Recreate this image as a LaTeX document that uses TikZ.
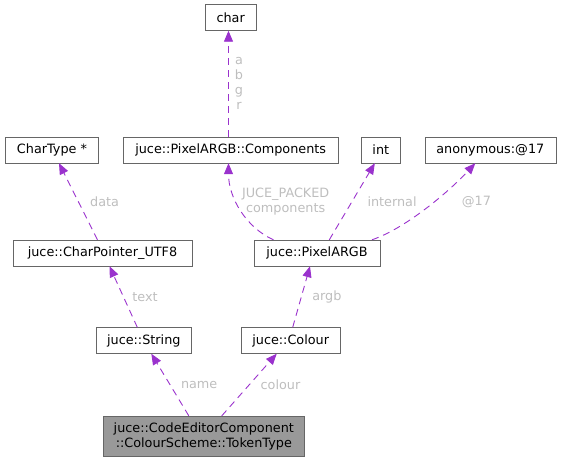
\documentclass[tikz,border=0pt]{standalone}
\usepackage{fontspec}
\setmainfont{DejaVu Sans}
\usetikzlibrary{arrows.meta}
\definecolor{edgepurple}{HTML}{9A32CD}
\definecolor{lblgray}{HTML}{BEBEBE}
\definecolor{boxgray}{HTML}{666666}
\begin{document}
\begin{tikzpicture}[x=1pt,y=-1pt,>={Triangle[length=11pt,width=9pt]},font=\fontsize{12.8}{15}\selectfont]
\tikzset{
  klass/.style={draw=boxgray,fill=white,shape=rectangle,minimum height=26pt,inner xsep=4pt,inner ysep=2pt},
  focus/.style={klass,fill=black!40,align=center,minimum height=40pt},
  dep/.style={->,color=edgepurple,dash pattern=on 7pt off 5pt,line width=0.9pt},
  lbl/.style={text=lblgray,align=center,inner sep=1pt}
}
\useasboundingbox (0,0) rectangle (561,461);
\node[klass,minimum width=51.5pt] (char) at (230.7,17.5) {char};
\node[klass,minimum width=93pt] (chartype) at (52,150) {CharType *};
\node[klass,minimum width=214.6pt] (components) at (230.7,150) {juce::PixelARGB::Components};
\node[klass,minimum width=38.6pt] (int) at (380.8,150) {int};
\node[klass,minimum width=131pt] (anon) at (490.3,150) {anonymous:@17};
\node[klass,minimum width=179pt] (utf8) at (102.5,253) {juce::CharPointer\_UTF8};
\node[klass,minimum width=125.5pt] (pixel) at (317,253) {juce::PixelARGB};
\node[klass,minimum width=94.4pt] (string) at (143.8,340.5) {juce::String};
\node[klass,minimum width=98.7pt] (colour) at (290.7,340.5) {juce::Colour};
\node[focus,minimum width=201.7pt] (token) at (203.8,436) {juce::CodeEditorComponent\\::ColourScheme::TokenType};

\draw[dep] ([xshift=-15pt]token.north) -- node[lbl,right=9.5pt]{name} ([xshift=7.5pt]string.south);
\draw[dep] ([xshift=18pt]token.north) -- node[lbl,right=10pt]{colour} ([xshift=-14pt]colour.south);
\draw[dep] ([xshift=-6.5pt]string.north) -- node[lbl,right=7.5pt]{text} ([xshift=7pt]utf8.south);
\draw[dep] ([xshift=2pt]colour.north) -- node[lbl,right=9.5pt]{argb} ([xshift=-7pt]pixel.south);
\draw[dep] ([xshift=-5pt]utf8.north) -- node[lbl,right=10.5pt]{data} ([xshift=7pt]chartype.south);
\draw[dep] ([xshift=-43.5pt]pixel.north) .. controls +(-27,-12) and +(0,35) .. node[lbl,right=4pt,pos=0.6]{JUCE\_PACKED\\components} ([xshift=-2.2pt]components.south);
\draw[dep] ([xshift=12.3pt]pixel.north) -- node[lbl,right=14pt]{internal} ([xshift=-6pt]int.south);
\draw[dep] ([xshift=55pt]pixel.north) .. controls +(35,-12) and +(-25,27) .. node[lbl,anchor=west,xshift=33pt,yshift=5pt]{@17} ([xshift=-15pt]anon.south);
\draw[dep] ([xshift=-2.2pt]components.north) -- node[lbl,right=5pt]{a\\b\\g\\r} ([xshift=-2.2pt]char.south);
\end{tikzpicture}
\end{document}
